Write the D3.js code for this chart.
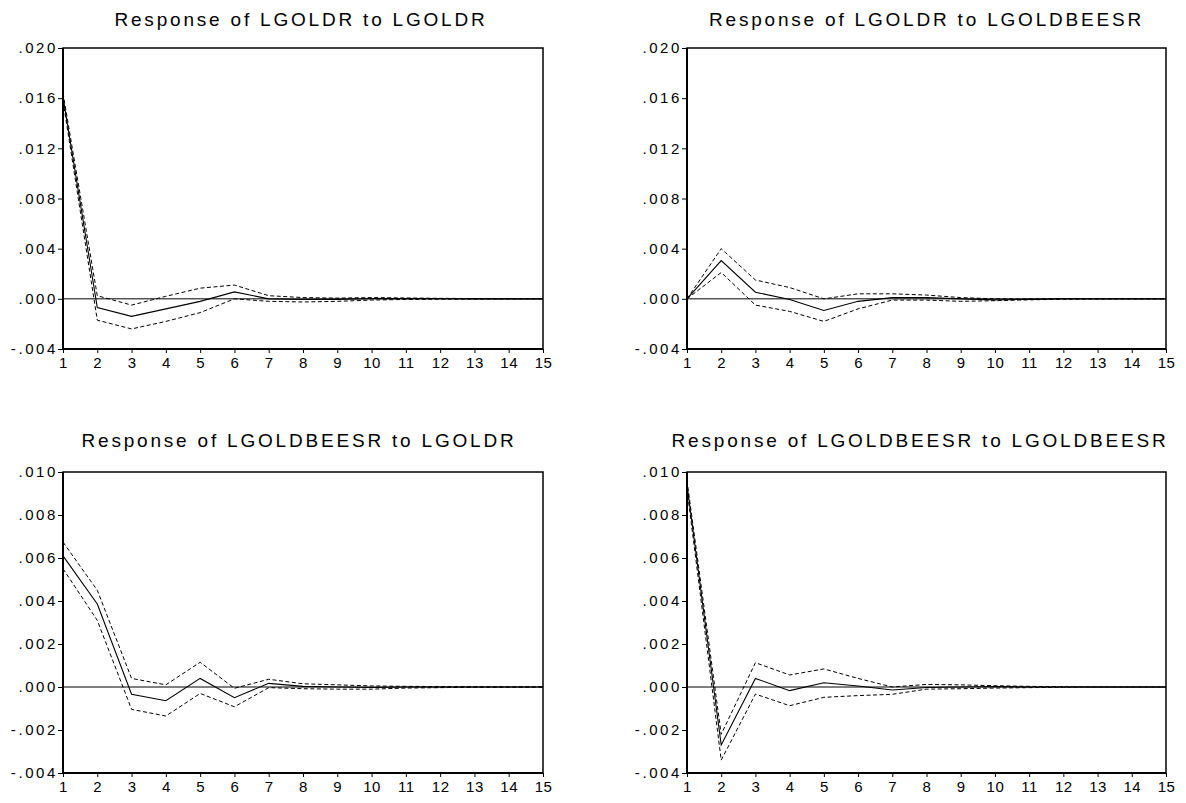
<!DOCTYPE html>
<html>
<head>
<meta charset="utf-8">
<script src="https://cdn.jsdelivr.net/npm/d3@7"></script>
<style>
  body { margin: 0; background: #fff; }
  svg { display: block; font-family: "Liberation Sans", Arial, sans-serif; }
</style>
</head>
<body>
<div id="chart"></div>
<script>
// periods on the x axis
const periods = d3.range(1, 16);

// Response of LGOLDR to LGOLDR
const resp11  = [0.0161, -0.0007, -0.0014, -0.0008, -0.0002, 0.00055, 0.0000, -0.00005, -0.00004, 0.00002, 0.00002, 0.00001, 0, 0, 0];
const upper11 = [0.0164, 0.00025, -0.0005, 0.0002, 0.00085, 0.0011, 0.00025, 0.0001, 0.00006, 0.0001, 0.00007, 0.00004, 0.00002, 0.00001, 0];
const lower11 = [0.0158, -0.0017, -0.0024, -0.0018, -0.0011, 0.0000, -0.0002, -0.00025, -0.0002, -0.0001, -0.00005, -0.00003, -0.00002, -0.00001, 0];

// Response of LGOLDR to LGOLDBEESR
const resp12  = [0, 0.00305, 0.00053, -0.00005, -0.00093, -0.0002, 0.0001, 0.0001, 0.0000, -0.00008, -0.00004, 0, 0, 0, 0];
const upper12 = [0, 0.0040, 0.0015, 0.0009, 0.0000, 0.0004, 0.0004, 0.0003, 0.0001, 0.0000, -0.00001, 0.00002, 0.00001, 0, 0];
const lower12 = [0, 0.0021, -0.0005, -0.0010, -0.0018, -0.0008, -0.0001, -0.0001, -0.0002, -0.00015, -0.00008, -0.00003, -0.00001, 0, 0];

// Response of LGOLDBEESR to LGOLDR
const resp21  = [0.0061, 0.00386, -0.00034, -0.00064, 0.0004, -0.0005, 0.00017, 0.00003, 0.0, -0.00002, 0, 0, 0, 0, 0];
const upper21 = [0.00674, 0.0045, 0.0004, 0.0001, 0.00115, -0.00006, 0.00036, 0.00015, 0.0001, 0.00005, 0.00003, 0.00002, 0.00001, 0, 0];
const lower21 = [0.0055, 0.0031, -0.00104, -0.00135, -0.0003, -0.00092, -0.00003, -0.00008, -0.0001, -0.0001, -0.00005, -0.00003, -0.00001, 0, 0];

// Response of LGOLDBEESR to LGOLDBEESR
const resp22  = [0.0094, -0.0027, 0.0004, -0.00017, 0.0002, 0.00005, -0.00014, -0.00002, 0, 0.00002, 0, 0, 0, 0, 0];
const upper22 = [0.0096, -0.0022, 0.00113, 0.00056, 0.00084, 0.0004, 0.0000, 0.00012, 0.0001, 0.00006, 0.00003, 0.00001, 0, 0, 0];
const lower22 = [0.0092, -0.0034, -0.00033, -0.00087, -0.00048, -0.0004, -0.00034, -0.0001, -0.00008, -0.00005, -0.00003, -0.00001, 0, 0, 0];

const titles = [
    "Response of LGOLDR to LGOLDR",
    "Response of LGOLDR to LGOLDBEESR",
    "Response of LGOLDBEESR to LGOLDR",
    "Response of LGOLDBEESR to LGOLDBEESR"
];
const ticksTop = [-0.004, 0.000, 0.004, 0.008, 0.012, 0.016, 0.020];
const ticksBottom = [-0.004, -0.002, 0.000, 0.002, 0.004, 0.006, 0.008, 0.010];

const panels = [
    { title: titles[0], resp: resp11, upper: upper11, lower: lower11, ticks: ticksTop,    x0: 63,  x1: 543,  y0: 48,  y1: 349, ty: 25.5,  dx: 0 },
    { title: titles[1], resp: resp12, upper: upper12, lower: lower12, ticks: ticksTop,    x0: 687, x1: 1166, y0: 48,  y1: 349, ty: 25.5,  dx: 2 },
    { title: titles[2], resp: resp21, upper: upper21, lower: lower21, ticks: ticksBottom, x0: 63,  x1: 543,  y0: 472, y1: 773, ty: 446.5, dx: -2 },
    { title: titles[3], resp: resp22, upper: upper22, lower: lower22, ticks: ticksBottom, x0: 687, x1: 1166, y0: 472, y1: 773, ty: 446.5, dx: -4.5 }
];

const width = 1186, height = 803;
const svg = d3.select("#chart").append("svg")
    .attr("width", width)
    .attr("height", height);

// ".020" style labels, no leading zero, plain hyphen for minus
const fmt = v => d3.format(".3f")(v).replace("−", "-").replace(/^(-?)0\./, "$1.");

panels.forEach(p => {
    const x = d3.scaleLinear().domain([1, 15]).range([p.x0, p.x1]);
    const y = d3.scaleLinear().domain(d3.extent(p.ticks)).range([p.y1, p.y0]);
    const g = svg.append("g");

    // title
    g.append("text")
        .attr("x", (p.x0 + p.x1) / 2 - 2 + p.dx)
        .attr("y", p.ty)
        .attr("text-anchor", "middle")
        .style("font-size", "19px")
        .style("letter-spacing", "2.8px")
        .text(p.title);

    // y axis
    const yAxis = g.append("g")
        .attr("transform", `translate(${p.x0},0)`)
        .call(d3.axisLeft(y).tickValues(p.ticks).tickFormat(fmt).tickSize(5).tickSizeOuter(0));
    yAxis.select(".domain").remove();
    yAxis.selectAll("line").attr("stroke", "#000");
    yAxis.selectAll("text")
        .attr("x", -5)
        .attr("fill", "#000")
        .style("font-size", "15px")
        .style("letter-spacing", "2.6px")
        .style("font-family", "'Liberation Sans', Arial, sans-serif");

    // x axis
    const xAxis = g.append("g")
        .attr("transform", `translate(0,${p.y1})`)
        .call(d3.axisBottom(x).tickValues(periods).tickFormat(d3.format("d")).tickSize(4).tickSizeOuter(0));
    xAxis.select(".domain").remove();
    xAxis.selectAll("line").attr("stroke", "#000");
    xAxis.selectAll("text")
        .attr("y", 8)
        .attr("fill", "#000")
        .style("font-size", "15px")
        .style("letter-spacing", "0.5px")
        .style("font-family", "'Liberation Sans', Arial, sans-serif");

    // zero line
    g.append("line")
        .attr("x1", p.x0).attr("x2", p.x1)
        .attr("y1", y(0)).attr("y2", y(0))
        .attr("stroke", "#000")
        .attr("stroke-width", 1);

    const line = d3.line()
        .x((d, i) => x(periods[i]))
        .y(d => y(d));

    [p.upper, p.lower].forEach(band => {
        g.append("path")
            .datum(band)
            .attr("d", line)
            .attr("fill", "none")
            .attr("stroke", "#000")
            .attr("stroke-width", 1)
            .attr("stroke-dasharray", "4,2.5");
    });

    g.append("path")
        .datum(p.resp)
        .attr("d", line)
        .attr("fill", "none")
        .attr("stroke", "#000")
        .attr("stroke-width", 1.1);

    // frame
    g.append("rect")
        .attr("x", p.x0).attr("y", p.y0)
        .attr("width", p.x1 - p.x0).attr("height", p.y1 - p.y0)
        .attr("fill", "none")
        .attr("stroke", "#000")
        .attr("stroke-width", 1.5);
    g.append("path")
        .attr("d", `M${p.x0},${p.y0}V${p.y1}H${p.x1}`)
        .attr("fill", "none")
        .attr("stroke", "#000")
        .attr("stroke-width", 2);
});
</script>
</body>
</html>
